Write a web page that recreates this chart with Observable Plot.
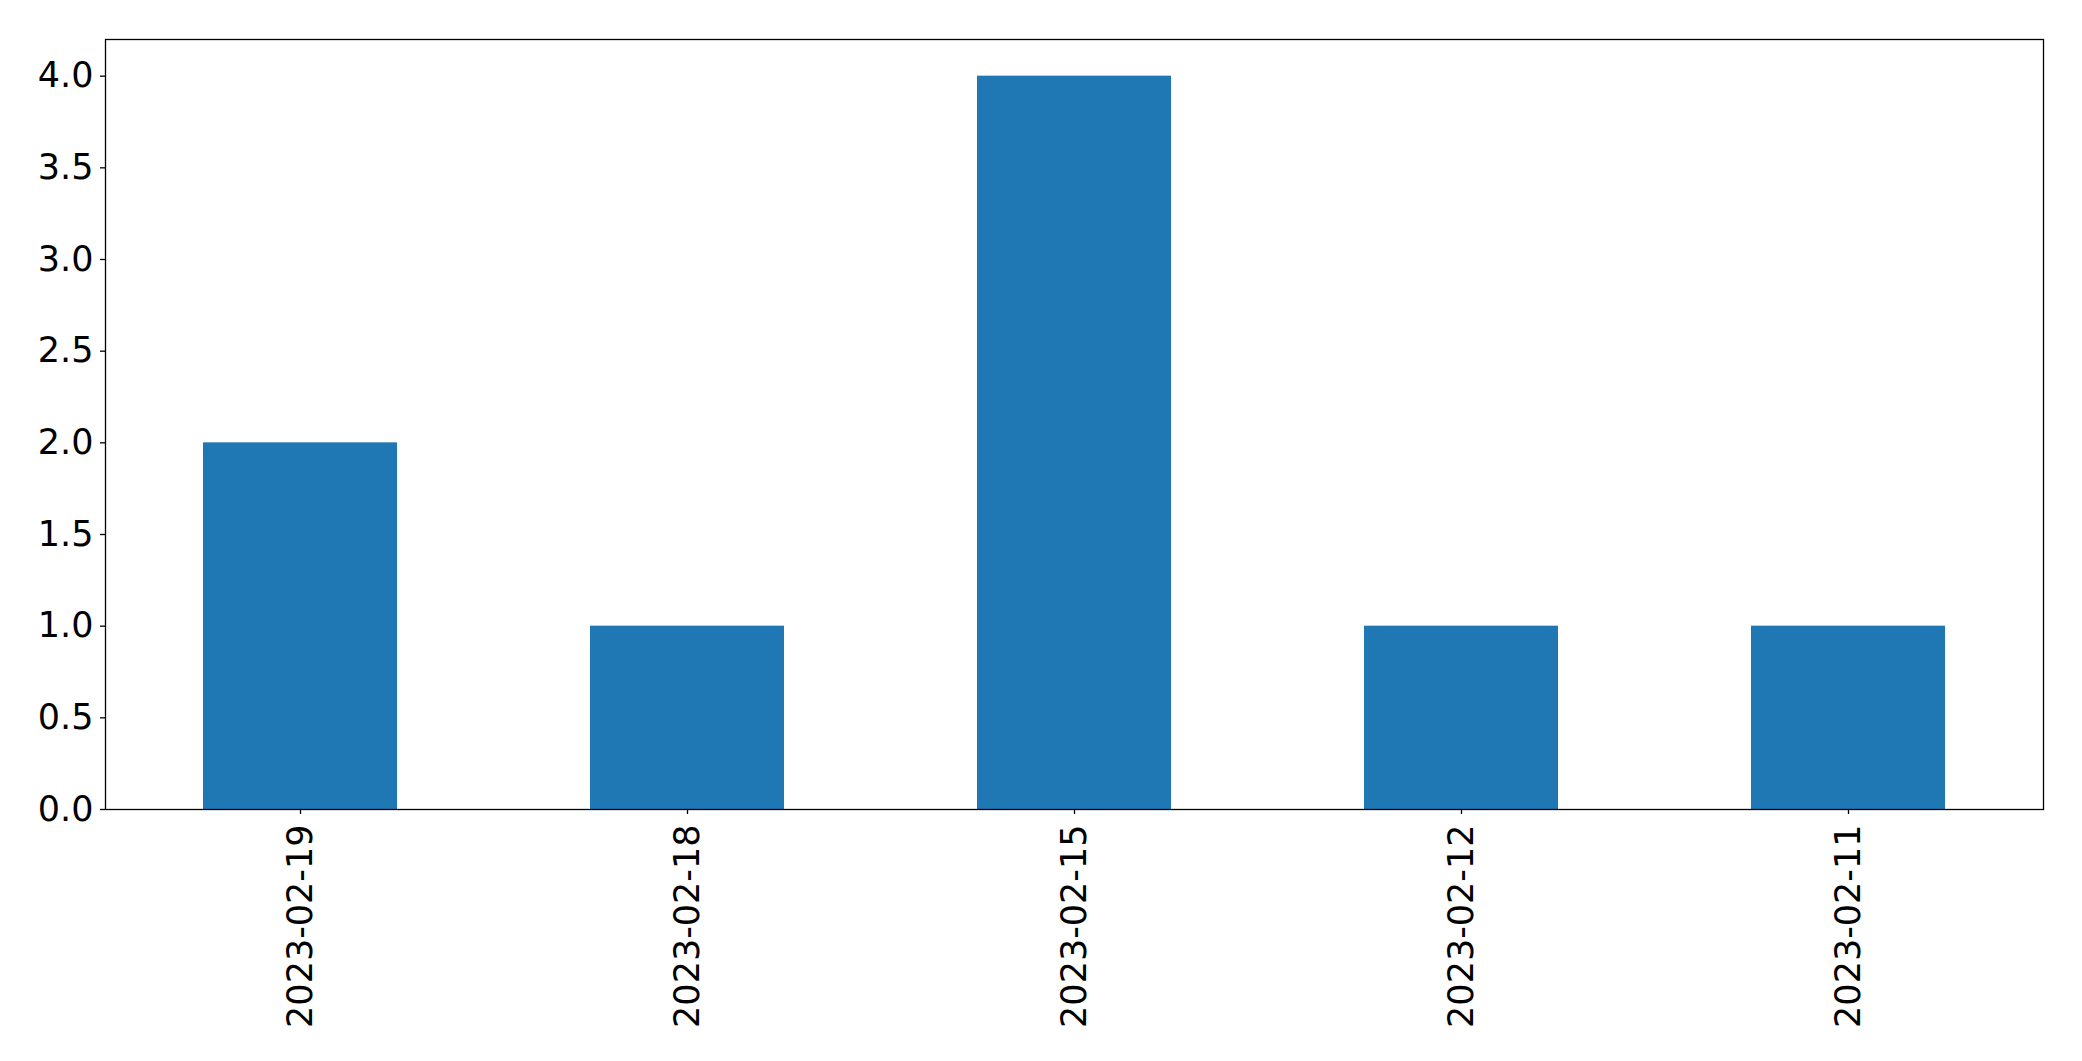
<!DOCTYPE html>
<html>
<head>
<meta charset="utf-8">
<script src="https://cdn.jsdelivr.net/npm/d3@7"></script>
<script src="https://cdn.jsdelivr.net/npm/@observablehq/plot@0.6"></script>
<style>
  html, body { margin: 0; padding: 0; background: #fff; }
  #chart { width: 2082px; height: 1061px; }
</style>
</head>
<body>
<div id="chart"></div>
<script>
const categories = ["2023-02-19", "2023-02-18", "2023-02-15", "2023-02-12", "2023-02-11"];
const values = [2, 1, 4, 1, 1];
const yTicks = [0, 0.5, 1, 1.5, 2, 2.5, 3, 3.5, 4];

const data = categories.map((c, i) => ({category: c, value: values[i]}));

const chart = Plot.plot({
  width: 2082,
  height: 1061,
  marginLeft: 105,
  marginRight: 39,
  marginTop: 39,
  marginBottom: 252,
  style: {fontFamily: "DejaVu Sans", color: "black", background: "white", overflow: "visible"},
  x: {type: "band", domain: categories, paddingInner: 0.5, paddingOuter: 0.25, align: 0.5},
  y: {domain: [0, 4.2]},
  marks: [
    Plot.barY(data, {x: "category", y: "value", fill: "#1f77b4"}),
    Plot.frame({stroke: "black", strokeWidth: 1.3}),
    Plot.axisY({ticks: yTicks, tickFormat: d3.format(".1f"), tickSize: 5, tickPadding: 7, fontSize: 35, label: null, strokeWidth: 1.3}),
    Plot.axisX({tickSize: 5, tickPadding: 10, tickRotate: -90, fontSize: 35, label: null, strokeWidth: 1.3})
  ]
});
document.getElementById("chart").appendChild(chart);
</script>
</body>
</html>
